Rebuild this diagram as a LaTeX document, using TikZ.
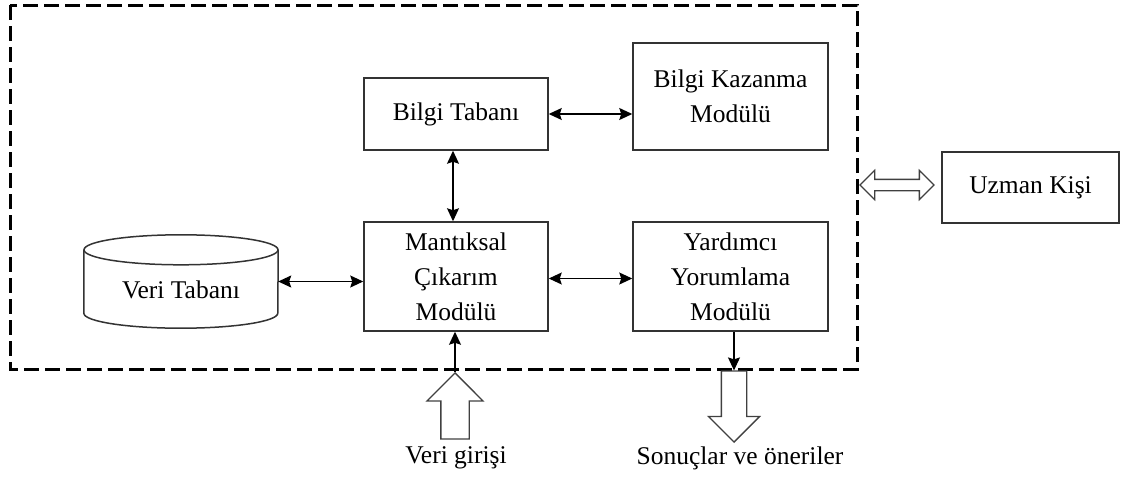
\documentclass[tikz,border=0pt]{standalone}
\usepackage{fontspec}
\setmainfont{Liberation Serif}
\usetikzlibrary{arrows.meta,shapes.arrows}
\begin{document}
\begin{tikzpicture}[x=1pt,y=-1pt,
        font=\fontsize{25.5}{35}\selectfont,
        box/.style = {draw=black!80,line width=1.5pt,align=center,inner sep=0pt},
        arrow/.style = {line width=1.3pt,{Stealth[length=13pt,width=12pt,inset=2pt]}-{Stealth[length=13pt,width=12pt,inset=2pt]}},
        arrowone/.style = {line width=1.3pt,-{Stealth[length=13pt,width=12pt,inset=2pt]}},
        hollow/.style = {draw=black!75,line width=1.3pt,single arrow,
                         single arrow tip angle=90,inner xsep=0pt}]
    \useasboundingbox (0,0) rectangle (1122,479);
    \draw[line width=3pt,dash pattern=on 15pt off 6pt] (10,5) rectangle (857,369);

    \node[box,minimum width=184pt,minimum height=72pt]  (bt) at (456,114)   {Bilgi Tabanı};
    \node[box,minimum width=195pt,minimum height=107pt] (bk) at (730.5,96.5) {Bilgi Kazanma\\Modülü};
    \node[box,minimum width=184pt,minimum height=109pt] (mc) at (456,276.5) {Mantıksal\\Çıkarım\\Modülü};
    \node[box,minimum width=195pt,minimum height=109pt] (yy) at (730.5,276.5) {Yardımcı\\Yorumlama\\Modülü};
    \node[box,minimum width=177pt,minimum height=71pt]  (uk) at (1030.5,187.5) {Uzman Kişi};

    % veri tabani
    \node[minimum width=194pt,minimum height=93pt,inner sep=0pt] (vt) at (181,281.5) {};
    \node at ([yshift=-8.5pt]vt.center) {Veri Tabanı};
    \draw[box] ([yshift=-15pt]vt.north) ellipse [x radius=97pt,y radius=15pt];
    \draw[box] ([yshift=-15pt]vt.north west) -- ([yshift=15pt]vt.south west)
        arc[start angle=180,end angle=360,x radius=97pt,y radius=15pt]
        -- ([yshift=-15pt]vt.north east);

    \draw[arrow] (bt.east) -- (bt.east -| bk.west);
    \draw[arrow] ([xshift=-3pt]bt.south) -- ([xshift=-3pt]mc.north);
    \draw[arrow] (vt.east) -- (vt.east -| mc.west);
    \draw[arrow] ([yshift=-2pt]mc.east) -- ([yshift=-2pt]yy.west);

    % giris ve cikis
    \node[hollow,double arrow,double arrow tip angle=90,inner ysep=5pt,
          double arrow head extend=9pt,minimum height=74pt] (ua) at (897,185) {};
    \node[hollow,rotate=90,inner ysep=13.5pt,single arrow head extend=14pt,
          minimum height=66pt,anchor=tip] (vg) at (455,372) {};
    \node[hollow,rotate=-90,inner ysep=12pt,single arrow head extend=13pt,
          minimum height=71pt,anchor=tip] (so) at (734,443) {};
    \draw[arrowone] (vg.tip) -- (vg.tip |- mc.south);
    \draw[arrowone] (yy.south -| so.west) -- (so.west);

    \node (vgt) at (456,458) {Veri girişi};
    \node (sot) at (740,458) {Sonuçlar ve öneriler};
\end{tikzpicture}
\end{document}
